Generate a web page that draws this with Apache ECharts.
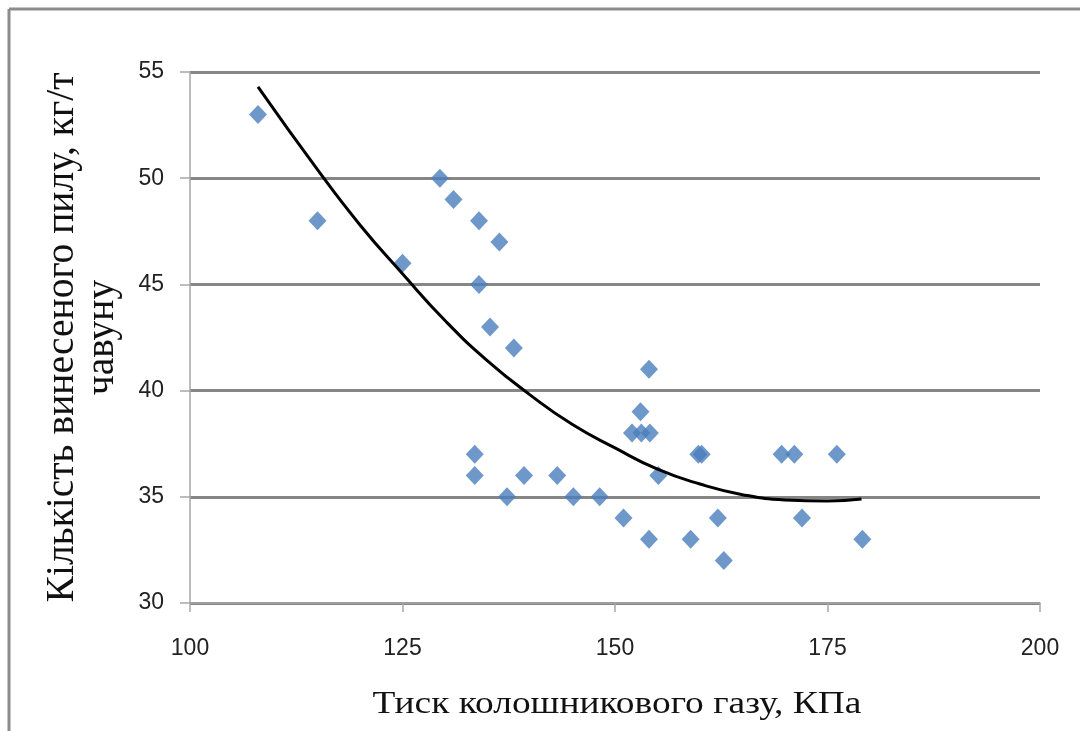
<!DOCTYPE html>
<html>
<head>
<meta charset="utf-8">
<script src="https://cdn.jsdelivr.net/npm/echarts@6/dist/echarts.min.js"></script>
<style>
  html, body { margin: 0; padding: 0; background: #fff; }
  #chart { width: 1080px; height: 731px; }
</style>
</head>
<body>
<div id="chart"></div>
<script>
// точки вимірювань: тиск колошникового газу (КПа) та винос пилу (кг/т)
const pressure = [108, 115, 125, 129.4, 131, 134, 136.4, 134, 135.3, 138.1,
  154, 153, 152, 153.1, 154.1, 133.5, 133.5, 139.3, 143.2, 137.3,
  145.1, 148.2, 151, 154, 158.9, 159.8, 160.2, 155.1, 162.1, 162.8,
  169.6, 171.1, 176.1, 172, 179.1];
const dust = [53, 48, 46, 50, 49, 48, 47, 45, 43, 42,
  41, 39, 38, 38, 38, 37, 36, 36, 36, 35,
  35, 35, 34, 33, 33, 37, 37, 36, 34, 32,
  37, 37, 37, 34, 33];

// лінія тренду
const trendX = [108, 115, 120, 125, 130, 135, 140, 145, 150, 155, 160, 165, 170, 175, 179];
const trendY = [54.3, 50.4, 47.8, 45.5, 43.3, 41.4, 39.8, 38.4, 37.3, 36.3, 35.6, 35.1, 34.85, 34.8, 34.9];

const xTicks = [100, 125, 150, 175, 200];
const yTicks = [30, 35, 40, 45, 50, 55];

const xTitle = 'Тиск колошникового газу, КПа';
const yTitle = 'Кількість винесеного пилу, кг/т\nчавуну';

const chart = echarts.init(document.getElementById('chart'));

const option = {
  animation: false,
  backgroundColor: '#fff',
  graphic: [
    // рамка зліва та зверху
    { type: 'line', shape: { x1: 9, y1: 9, x2: 9, y2: 731 }, style: { stroke: '#8c8c8c', lineWidth: 3 } },
    { type: 'line', shape: { x1: 9, y1: 9, x2: 1080, y2: 9 }, style: { stroke: '#8c8c8c', lineWidth: 3 } },
    // підпис осі X трохи розтягнутий по ширині, як на оригіналі
    {
      type: 'text',
      x: 617,
      y: 705,
      scaleX: 1.17,
      style: {
        text: xTitle,
        font: '32px "Liberation Serif"',
        fill: '#111',
        align: 'center',
        verticalAlign: 'middle'
      }
    }
  ],
  grid: { left: 190, right: 40, top: 72, bottom: 128 },
  xAxis: {
    type: 'value',
    min: xTicks[0],
    max: xTicks[xTicks.length - 1],
    interval: 25,
    axisLine: { lineStyle: { color: '#a6a6a6', width: 1.5 } },
    axisTick: { show: true, length: 9, lineStyle: { color: '#a6a6a6', width: 1.5 } },
    axisLabel: { margin: 34, fontFamily: 'Liberation Sans', fontSize: 23, color: '#222' },
    splitLine: { show: false }
  },
  yAxis: {
    type: 'value',
    min: yTicks[0],
    max: yTicks[yTicks.length - 1],
    interval: 5,
    name: yTitle,
    nameLocation: 'middle',
    nameRotate: 90,
    nameGap: 67,
    nameTextStyle: { fontFamily: 'Liberation Serif', fontSize: 39.5, lineHeight: 40, color: '#111', align: 'center' },
    axisLine: { show: true, lineStyle: { color: '#a6a6a6', width: 1.5 } },
    axisTick: { show: true, length: 10, lineStyle: { color: '#a6a6a6', width: 1.5 } },
    axisLabel: { margin: 26, fontFamily: 'Liberation Sans', fontSize: 23, color: '#222' },
    splitLine: { show: true, lineStyle: { color: '#868686', width: 3 } }
  },
  series: [
    {
      type: 'scatter',
      symbol: 'diamond',
      symbolSize: [18, 19],
      itemStyle: { color: '#4a7ebb' },
      data: pressure.map((p, i) => [p, dust[i]]),
      z: 3
    },
    {
      type: 'line',
      smooth: true,
      showSymbol: false,
      lineStyle: { color: '#000', width: 3 },
      data: trendX.map((p, i) => [p, trendY[i]]),
      z: 4
    }
  ]
};

chart.setOption(option);
</script>
</body>
</html>
